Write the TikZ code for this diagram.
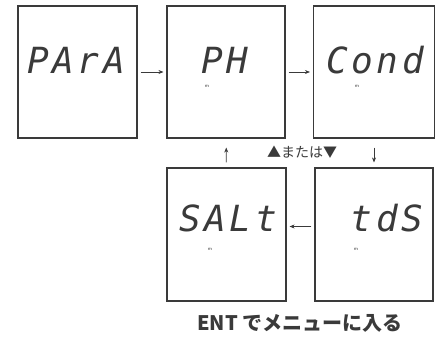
\documentclass[tikz,border=0pt]{standalone}
\usepackage{fontspec}
\newfontfamily\jpfont{Noto Sans CJK JP}
\newfontfamily\lcdfont[LetterSpace=10]{DejaVu Sans Mono}
\usetikzlibrary{arrows.meta}
\definecolor{lcd_gray}{HTML}{3a3a3a}

\tikzset{
  screen/.style={draw=lcd_gray, line width=1.1pt, fill=white, minimum width=119pt, minimum height=132pt, inner sep=0pt},
  lcdtext/.style={font=\lcdfont\itshape\fontsize{36}{36}\selectfont, text=lcd_gray, inner sep=0pt, text depth=0pt, text height=26pt},
  unit/.style={font=\sffamily\fontsize{5}{5}\selectfont, text=lcd_gray, inner sep=0pt},
  flow/.style={-{Stealth[length=5pt, width=4pt]}, line width=0.6pt, lcd_gray}
}

\begin{document}
\begin{tikzpicture}[x=1pt, y=-1pt]
      \useasboundingbox (0,0) rectangle (436,342);

      % screens
      \node[screen] (para) at (77.5,72) {};
      \node[screen, minimum width=118pt] (ph) at (226,72) {};
      \node[screen, minimum width=121pt] (cond) at (374,72) {};
      \node[screen, minimum height=133pt] (salt) at (226.5,234.5) {};
      \node[screen, minimum width=118pt, minimum height=133pt] (tds) at (374,234.5) {};

      % display contents
      \node[lcdtext] (t_para) at (76,61) {PArA};
      \node[lcdtext] (t_ph) at (225,61) {PH};
      \node[lcdtext] (t_cond) at (375,61) {Cond};
      \node[lcdtext] (t_salt) at (228,218) {SALt};
      \node[lcdtext] (t_tds) at (387,218) {tdS};

      \node[unit] (m_ph) at (207,86) {m};
      \node[unit] (m_cond) at (357,86) {m};
      \node[unit] (m_salt) at (210,249) {m};
      \node[unit] (m_tds) at (356,249) {m};

      % arrows
      \draw[flow, shorten <=3pt, shorten >=3pt] (para) -- (ph);
      \draw[flow, shorten <=3pt, shorten >=3pt] (ph) -- (cond);
      \draw[flow, shorten <=5pt, shorten >=9pt] (salt) -- (ph);
      \draw[flow, shorten <=9pt, shorten >=5pt] (cond) -- (tds);
      \draw[flow, shorten <=3pt, shorten >=3pt] ([yshift=8pt]tds.west) -- ([yshift=8pt]salt.east);

      \node[font=\jpfont\fontsize{14}{14}\selectfont, text=lcd_gray] (updown) at (302,152) {▲または▼};
      \node[font=\jpfont\bfseries\fontsize{20}{20}\selectfont, text=lcd_gray] (enter) at (300,323) {ENT でメニューに入る};

    \end{tikzpicture}
\end{document}
